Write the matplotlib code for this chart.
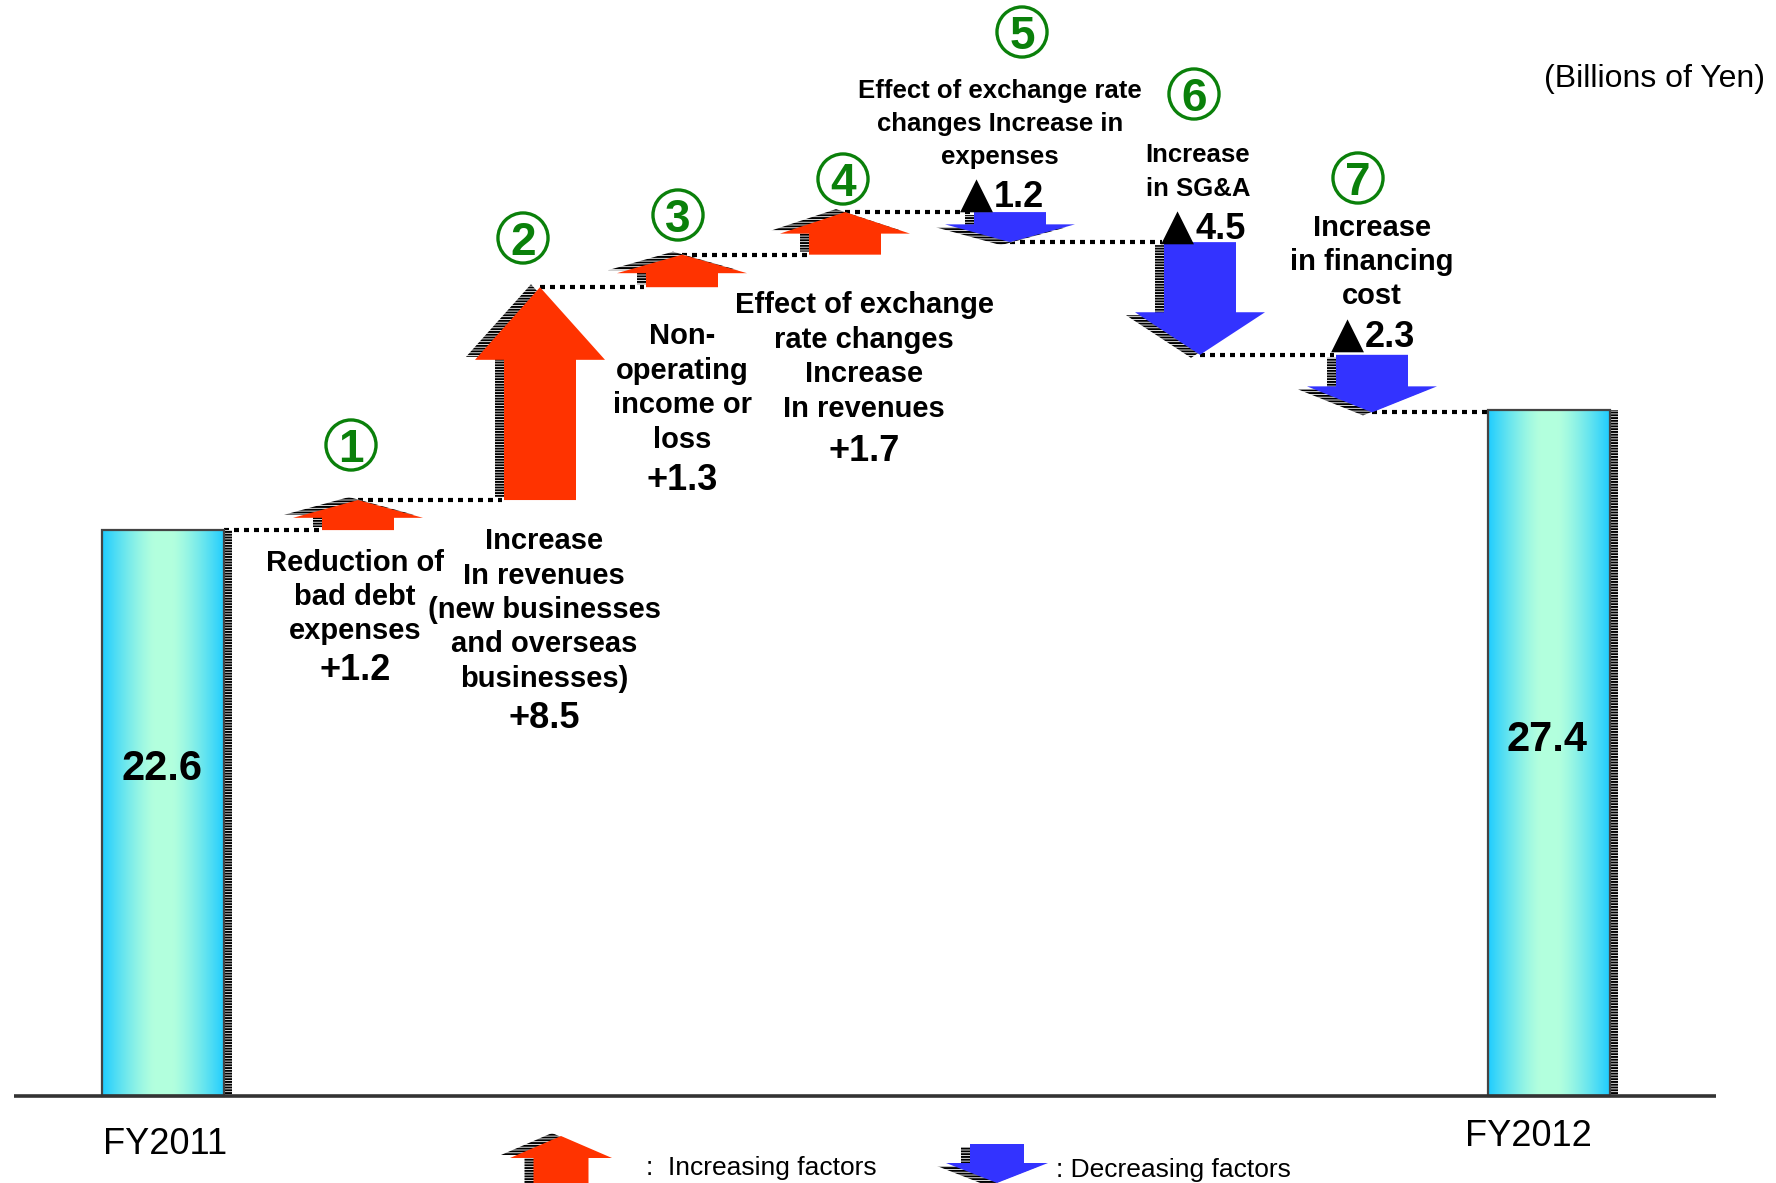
import numpy as np
import matplotlib
matplotlib.use("Agg")
import matplotlib.pyplot as plt
from matplotlib.patches import Polygon, Rectangle

# ordinary income bridge, billions of yen
start_label = "FY2011"
end_label = "FY2012"
start_value = 22.6
end_value = 27.4
changes = [1.2, 8.5, 1.3, 1.7, -1.2, -4.5, -2.3]
change_text = ["+1.2", "+8.5", "+1.3", "+1.7", "▲1.2", "▲4.5", "▲2.3"]
change_names = [
    "Reduction of\nbad debt\nexpenses",
    "Increase\nIn revenues\n(new businesses\nand overseas\nbusinesses)",
    "Non-\noperating\nincome or\nloss",
    "Effect of exchange\nrate changes\nIncrease\nIn revenues",
    "Effect of exchange rate\nchanges Increase in\nexpenses",
    "Increase\nin SG&A",
    "Increase\nin financing\ncost",
]
step_marks = ["1", "2", "3", "4", "5", "6", "7"]

# ---- layout (pixels) ----
W, H = 1776, 1183
BASE = 1096          # pixel row of zero
SCALE = 25.04        # pixels per billion yen
arrow_x = [358, 540, 682, 845, 1010, 1200, 1372]
bar_left = [102, 1488]
bar_w = 122
name_pos = [(355, 597), (544, 610), (682, 388), (864, 357), (1000, 124), (1198, 172), (1372, 262)]
name_size = [21, 21, 21, 21, 18.5, 18.5, 21]
name_spacing = [1.29, 1.29, 1.29, 1.29, 1.49, 1.49, 1.29]
val_pos = [(355, 671), (544, 718), (682, 480), (864, 452), (999, 196), (1200, 228), (1370, 336)]
mark_pos = [(351, 445), (523, 238), (678, 215), (843, 179), (1022, 32), (1194, 94), (1358, 178)]
BODY, HEAD = 72, 130

UP_COL = "#FF3300"
DOWN_COL = "#3333FF"
GREEN = "#0A800A"
FONT = ["Liberation Sans", "DejaVu Sans"]

plt.rcParams["hatch.linewidth"] = 1.4


def yv(ypx):
    # pixel row -> value units
    return (BASE - ypx) / SCALE


def arrow_pts(xc, v0, v1, body=BODY, head=HEAD, hlen=None, dx=0.0, dy=0.0):
    s = 1 if v1 > v0 else -1
    if hlen is None:
        hlen = 0.3 * abs(v1 - v0) + 0.35
    vh = v1 - s * hlen
    b, h = body / 2, head / 2
    pts = [(xc - b, v0), (xc - b, vh), (xc - h, vh), (xc, v1),
           (xc + h, vh), (xc + b, vh), (xc + b, v0)]
    return [(x + dx, v + dy) for x, v in pts]


def draw_arrow(ax, xc, v0, v1, **kw):
    s = 1 if v1 > v0 else -1
    color = UP_COL if s > 0 else DOWN_COL
    shadow = Polygon(arrow_pts(xc, v0, v1, dx=-9, dy=s * 3 / SCALE, **kw), closed=True,
                     facecolor="white", edgecolor="black", lw=0, hatch="------", zorder=3)
    ax.add_patch(shadow)
    ax.add_patch(Polygon(arrow_pts(xc, v0, v1, **kw), closed=True,
                         facecolor=color, edgecolor="none", zorder=4))


fig = plt.figure(figsize=(W / 100, H / 100), dpi=100)
ax = fig.add_axes([0, 0, 1, 1])
ax.axis("off")

# gradient for the two totals
t = np.linspace(0, 1, 256)
k = np.clip(np.abs(t - 0.5) * 2, 0, 1)
k = np.clip((k - 0.15) / 0.85, 0, 1) ** 1.3
edge = np.array([0.12, 0.80, 1.0])
mid = np.array([0.70, 1.0, 0.87])
grad = (mid[None, :] * (1 - k[:, None]) + edge[None, :] * k[:, None])[None, :, :]

for x0, val, lab in zip(bar_left, [start_value, end_value], [start_label, end_label]):
    ax.add_patch(Rectangle((x0 + bar_w, 0), 8, val, facecolor="white", edgecolor="black",
                           lw=0, hatch="------", zorder=2))
    im = ax.imshow(grad, extent=(x0, x0 + bar_w, 0, val), aspect="auto", zorder=2)
    clip = Rectangle((x0, 0), bar_w, val, transform=ax.transData)
    im.set_clip_path(clip)
    ax.add_patch(Rectangle((x0, 0), bar_w, val, facecolor="none", edgecolor="#444444",
                           lw=1.6, zorder=3))

ax.text(162, yv(769), f"{start_value}", ha="center", va="center", fontsize=30,
        fontweight="bold", family=FONT, zorder=6)
ax.text(1547, yv(740), f"{end_value}", ha="center", va="center", fontsize=30,
        fontweight="bold", family=FONT, zorder=6)
ax.text(165, yv(1144), start_label, ha="center", va="center", fontsize=26, family=FONT)
ax.text(1528, yv(1137), end_label, ha="center", va="center", fontsize=26, family=FONT)

# baseline
ax.plot([14, 1716], [0, 0], color="#333333", lw=2.6, zorder=5, solid_capstyle="butt")

# arrows and dotted connectors
level = start_value
prev_x = bar_left[0] + bar_w
for i, d in enumerate(changes):
    nxt = level + d
    xc = arrow_x[i]
    ax.plot([prev_x, xc - BODY / 2 - 2], [level, level], color="black", lw=3,
            linestyle=(0, (1.2, 1.2)), zorder=1)
    draw_arrow(ax, xc, level, nxt)
    level = nxt
    prev_x = xc
ax.plot([prev_x, bar_left[1]], [level, level], color="black", lw=3,
        linestyle=(0, (1.2, 1.2)), zorder=1)

# labels
for i in range(len(changes)):
    nx, ny = name_pos[i]
    ax.text(nx, yv(ny), change_names[i], ha="center", va="center", fontsize=name_size[i],
            fontweight="bold", family=FONT, linespacing=name_spacing[i], zorder=6)
    vx, vy = val_pos[i]
    txt = change_text[i]
    if txt.startswith("▲"):
        # big solid triangle in front of the number, same baseline
        ax.text(vx - 6, yv(vy + 11), "▲", ha="right", va="baseline", fontsize=31,
                family=["DejaVu Sans"], zorder=6)
        ax.text(vx - 5, yv(vy + 11), txt[1:], ha="left", va="baseline", fontsize=26,
                fontweight="bold", family=FONT, zorder=6)
    else:
        ax.text(vx, yv(vy), txt, ha="center", va="center", fontsize=26,
                fontweight="bold", family=FONT, zorder=6)
    mx, my = mark_pos[i]
    ax.scatter([mx], [yv(my)], s=1300, facecolors="none", edgecolors=GREEN,
               linewidths=2.4, zorder=6)
    ax.text(mx, yv(my + 17), step_marks[i], ha="center", va="baseline", fontsize=33,
            fontweight="bold", color=GREEN, family=FONT, zorder=6)

ax.text(1765, yv(79), "(Billions of Yen)", ha="right", va="center", fontsize=23, family=FONT)

# legend glyphs
draw_arrow(ax, 561, yv(1200), yv(1136), body=55, head=102, hlen=22 / SCALE)
ax.text(646, yv(1168), ":  Increasing factors", ha="left", va="center", fontsize=19, family=FONT)
draw_arrow(ax, 997, yv(1144), yv(1183), body=54, head=102, hlen=20 / SCALE)
ax.text(1056, yv(1170), ": Decreasing factors", ha="left", va="center", fontsize=19, family=FONT)

ax.set_xlim(0, W)
ax.set_ylim(yv(H), yv(0))

fig.savefig("out.png", dpi=100)
